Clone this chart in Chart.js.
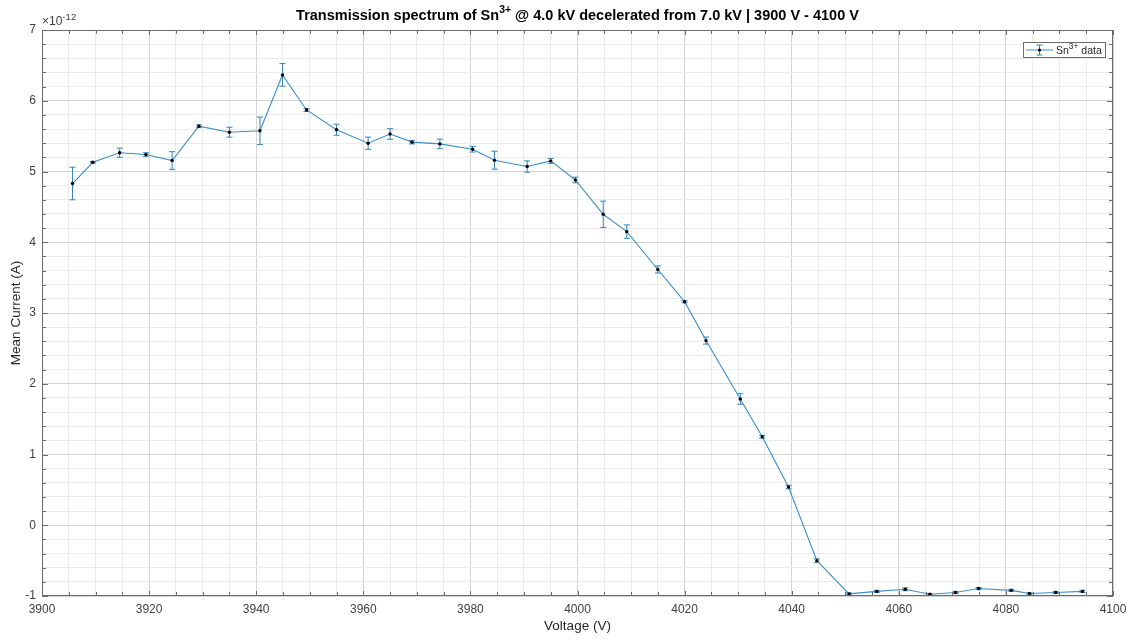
<!DOCTYPE html>
<html><head><meta charset="utf-8">
<script src="https://cdn.jsdelivr.net/npm/chart.js@4.4.1/dist/chart.umd.min.js"></script>
<style>html,body{margin:0;padding:0;background:#fff;}#wrap{width:1134px;height:641px;}</style>
</head><body><div id="wrap"><canvas id="c" width="1134" height="641"></canvas></div>
<script>
// Data (current in units of 1e-12 A)
const voltage = [3905.7, 3909.5, 3914.5, 3919.4, 3924.3, 3929.3, 3935.0, 3940.7, 3944.9, 3949.4,
  3955.0, 3960.9, 3965.0, 3969.1, 3974.3, 3980.4, 3984.5, 3990.6, 3995.0, 3999.6,
  4004.8, 4009.2, 4015.0, 4020.0, 4024.0, 4030.4, 4034.5, 4039.4, 4044.7, 4050.7,
  4055.9, 4061.2, 4065.8, 4070.6, 4074.9, 4081.0, 4084.4, 4089.3, 4094.3];
const current = [4.83, 5.13, 5.265, 5.24, 5.155, 5.64, 5.555, 5.575, 6.365, 5.87,
  5.59, 5.40, 5.53, 5.415, 5.39, 5.315, 5.16, 5.07, 5.15, 4.88,
  4.395, 4.15, 3.615, 3.16, 2.61, 1.785, 1.25, 0.54, -0.50, -0.97,
  -0.935, -0.905, -0.975, -0.95, -0.895, -0.92, -0.965, -0.95, -0.935];
const errors = [0.23, 0.01, 0.065, 0.025, 0.125, 0.02, 0.07, 0.195, 0.16, 0.02,
  0.078, 0.087, 0.075, 0.025, 0.068, 0.04, 0.127, 0.08, 0.035, 0.04,
  0.186, 0.095, 0.05, 0.015, 0.05, 0.075, 0.02, 0.025, 0.025, 0.015,
  0.015, 0.02, 0.01, 0.015, 0.015, 0.015, 0.01, 0.015, 0.015];
const xTickLabels = [3900, 3920, 3940, 3960, 3980, 4000, 4020, 4040, 4060, 4080, 4100];
const yTickLabels = [-1, 0, 1, 2, 3, 4, 5, 6, 7];
const titleParts = [{t:'Transmission spectrum of Sn'},{t:'3+',sup:true},{t:' @ 4.0 kV decelerated from 7.0 kV | 3900 V - 4100 V'}];
const legendParts = [{t:'Sn'},{t:'3+',sup:true},{t:' data'}];
const xTitle = 'Voltage (V)';
const yTitle = 'Mean Current (A)';
const exponentParts = [{t:'\u00d710'},{t:'-12',sup:true}];

const LINE = '#3d8ec4';
const ERR = '#3584b8';
const FONT = '"Liberation Sans", Arial, Helvetica, sans-serif';

function isMajorX(v){ return xTickLabels.some(t => Math.abs(t - v) < 1e-6); }
function isMajorY(v){ return yTickLabels.some(t => Math.abs(t - v) < 1e-6); }

function drawRich(ctx, parts, x, y, size, bold, align, supScale, supRise){
  const w = parts.map(p => {
    ctx.font = (bold?'bold ':'') + (p.sup ? size*supScale : size) + 'px ' + FONT;
    return ctx.measureText(p.t).width;
  });
  const total = w.reduce((a,b)=>a+b,0);
  let cx = align === 'center' ? x - total/2 : (align === 'right' ? x - total : x);
  ctx.textAlign = 'left';
  ctx.textBaseline = 'alphabetic';
  parts.forEach((p,i) => {
    ctx.font = (bold?'bold ':'') + (p.sup ? size*supScale : size) + 'px ' + FONT;
    ctx.fillText(p.t, cx, p.sup ? y - size*supRise : y);
    cx += w[i];
  });
}

const decor = {
  id: 'decor',
  beforeDatasetsDraw(chart){
    const {ctx, scales:{x, y}} = chart;
    ctx.save();
    ctx.strokeStyle = ERR;
    ctx.lineWidth = 1;
    voltage.forEach((v,i) => {
      const px = x.getPixelForValue(v);
      const top = y.getPixelForValue(current[i] + errors[i]);
      const bot = y.getPixelForValue(current[i] - errors[i]);
      ctx.beginPath();
      ctx.moveTo(px, top); ctx.lineTo(px, bot);
      ctx.moveTo(px-3, top); ctx.lineTo(px+3, top);
      ctx.moveTo(px-3, bot); ctx.lineTo(px+3, bot);
      ctx.stroke();
    });
    ctx.restore();
  },
  afterDraw(chart){
    const {ctx, chartArea:a, scales:{x, y}} = chart;
    ctx.save();
    // box
    ctx.strokeStyle = '#6b6b6b';
    ctx.lineWidth = 1;
    ctx.strokeRect(a.left+0.5, a.top+0.5, a.right-a.left-1, a.bottom-a.top-1);
    // inside ticks
    ctx.beginPath();
    x.ticks.forEach(t => {
      const px = Math.round(x.getPixelForValue(t.value)) + 0.5;
      const L = isMajorX(t.value) ? 5 : 4;
      ctx.moveTo(px, a.bottom); ctx.lineTo(px, a.bottom - L);
      ctx.moveTo(px, a.top); ctx.lineTo(px, a.top + L);
    });
    y.ticks.forEach(t => {
      const py = Math.round(y.getPixelForValue(t.value)) + 0.5;
      const L = isMajorY(t.value) ? 6 : 4;
      ctx.moveTo(a.left, py); ctx.lineTo(a.left + L, py);
      ctx.moveTo(a.right, py); ctx.lineTo(a.right - L, py);
    });
    ctx.stroke();
    // title
    ctx.fillStyle = '#000';
    drawRich(ctx, titleParts, (a.left + a.right)/2, 20, 14.5, true, 'center', 0.72, 0.5);
    // exponent
    ctx.fillStyle = '#404040';
    drawRich(ctx, exponentParts, a.left, 25, 12, false, 'left', 0.8, 0.45);
    // axis titles
    ctx.fillStyle = '#262626';
    ctx.font = '13.5px ' + FONT;
    ctx.textAlign = 'center';
    ctx.textBaseline = 'middle';
    ctx.fillText(xTitle, (a.left + a.right)/2, 626);
    ctx.save();
    ctx.translate(16, (a.top + a.bottom)/2);
    ctx.rotate(-Math.PI/2);
    ctx.fillText(yTitle, 0, 0);
    ctx.restore();
    // legend
    const lx = 1023, ly = 42, lw = 82, lh = 15;
    ctx.fillStyle = '#fff';
    ctx.fillRect(lx, ly, lw, lh);
    ctx.strokeStyle = '#6b6b6b';
    ctx.strokeRect(lx+0.5, ly+0.5, lw, lh);
    const cy = ly + lh/2 + 0.5;
    ctx.strokeStyle = LINE;
    ctx.beginPath();
    ctx.moveTo(lx+3, cy); ctx.lineTo(lx+30, cy);
    ctx.stroke();
    ctx.strokeStyle = ERR;
    ctx.beginPath();
    ctx.moveTo(lx+16.5, cy-5); ctx.lineTo(lx+16.5, cy+5);
    ctx.moveTo(lx+13.5, cy-5); ctx.lineTo(lx+19.5, cy-5);
    ctx.moveTo(lx+13.5, cy+5); ctx.lineTo(lx+19.5, cy+5);
    ctx.stroke();
    ctx.fillStyle = '#000';
    ctx.beginPath(); ctx.arc(lx+16.5, cy, 1.6, 0, Math.PI*2); ctx.fill();
    ctx.fillStyle = '#262626';
    drawRich(ctx, legendParts, lx + 33, ly + 12, 10.5, false, 'left', 0.8, 0.45);
    ctx.restore();
  }
};

const points = voltage.map((v,i) => ({x:v, y:current[i]}));

new Chart(document.getElementById('c'), {
  type: 'line',
  data: { datasets: [{
    label: 'Sn3+ data',
    data: points,
    borderColor: LINE,
    borderWidth: 1.1,
    pointRadius: 1.7,
    pointBackgroundColor: '#000',
    pointBorderWidth: 0,
    tension: 0,
    fill: false
  }]},
  options: {
    responsive: false,
    devicePixelRatio: 1,
    animation: false,
    layout: { padding: { top: 30, right: 21, left: 0, bottom: 0 } },
    plugins: { legend: { display: false }, title: { display: false }, tooltip: { enabled: false } },
    scales: {
      x: {
        type: 'linear', min: 3900, max: 4100,
        afterFit(s){ s.height = 45; },
        border: { display: false },
        grid: { drawTicks: false, tickLength: 0, lineWidth: 1,
          color: c => (c.tick && isMajorX(c.tick.value)) ? '#d4d4d4' : '#ebebeb' },
        ticks: { stepSize: 5, autoSkip: false, maxRotation: 0, padding: 6,
          color: '#404040', font: { family: FONT, size: 12 },
          callback: v => isMajorX(v) ? String(Math.round(v)) : '' }
      },
      y: {
        type: 'linear', min: -1, max: 7,
        afterFit(s){ s.width = 42; },
        border: { display: false },
        grid: { drawTicks: false, tickLength: 0, lineWidth: 1,
          color: c => (c.tick && isMajorY(c.tick.value)) ? '#d4d4d4' : '#ebebeb' },
        ticks: { stepSize: 0.2, autoSkip: false, padding: 6,
          color: '#404040', font: { family: FONT, size: 12 },
          callback: v => isMajorY(v) ? String(Math.round(v)) : '' }
      }
    }
  },
  plugins: [decor]
});
</script>
</body></html>
